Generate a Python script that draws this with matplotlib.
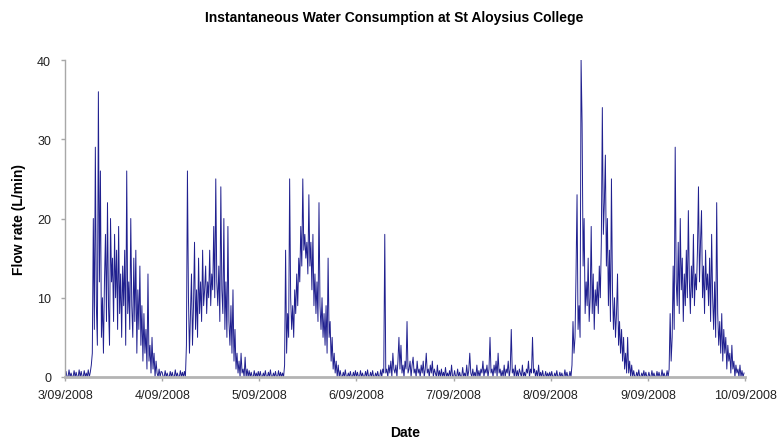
import pandas as pd
import matplotlib
matplotlib.use('Agg')
import matplotlib.pyplot as plt

# flow rate readings, one every 15 minutes (96 per day), L/min
day_03 = [0, 0.7, 0, 0, 0.9, 0, 0.5, 0, 0, 0.8, 0, 0.6, 0,
          0, 0.9, 0, 0.7, 0, 0, 0.8, 0, 0.5, 0, 0.9, 0, 0.6,
          1.5, 3, 20, 6, 29, 9, 4, 36, 12, 26, 5, 10, 3, 12,
          18, 7, 22, 9, 4, 20, 12, 15, 7, 18, 10, 16, 6, 19,
          8, 13, 5, 14, 9, 16, 4, 26, 8, 12, 6, 20, 9, 5,
          15, 7, 16, 3, 11, 6, 14, 4, 9, 2, 8, 3, 6, 1,
          13, 2, 4, 0.5, 5, 1, 3, 0, 2, 0.5, 0, 1, 0, 0.7]
day_04 = [0.6, 0, 0, 0.8, 0, 0.5, 0, 0, 0.7, 0, 0.6, 0,
          0, 0.9, 0, 0.5, 0, 0, 0.8, 0, 0.6, 0, 0.7, 0,
          4, 26, 10, 3, 8, 13, 4, 9, 17, 6, 11, 5, 15, 8,
          12, 7, 16, 9, 11, 14, 8, 12, 10, 16, 9, 13, 11, 19,
          10, 25, 12, 9, 14, 7, 24, 11, 8, 20, 6, 12, 5, 19,
          7, 4, 9, 3, 11, 2, 6, 1, 3, 0.5, 2, 0, 3, 0.5,
          1, 0, 2.5, 0, 1, 0, 0.8, 0, 0.6, 0, 0, 0.8, 0, 0.5, 0, 0.7]
day_05 = [0, 0.7, 0, 0, 0.5, 0, 0.8, 0, 0, 0.6, 0, 0.9, 0,
          0, 0.5, 0, 0.7, 0, 0, 0.8, 0, 0.6, 0, 0.5, 0,
          1.5, 16, 3, 8, 5, 25, 10, 6, 9, 5, 11, 8, 13, 9,
          15, 12, 19, 14, 25, 16, 18, 15, 17, 13, 23, 14, 17, 11,
          18, 9, 13, 8, 12, 7, 22, 9, 6, 10, 5, 8, 4, 9,
          3, 15, 5, 7, 2, 5, 1, 3, 0.5, 2, 0, 1.5, 0, 0.8,
          0, 0, 0.6, 0, 0.9, 0, 0, 0.5, 0, 0.7, 0, 0, 0.6, 0, 0.8]
day_06 = [0, 0.6, 0, 0, 0.8, 0, 0.5, 0, 0, 0.7, 0, 0.9, 0, 0,
          0.6, 0, 0.8, 0, 0, 0.5, 0, 0.7, 0, 0, 0.9, 0, 1, 0.5,
          18, 0.5, 1, 0, 1.5, 0.5, 2, 0, 3, 1, 0.5, 1.5, 0, 2,
          5, 1, 4, 0.5, 1.5, 0, 2, 1, 7, 0.5, 1, 2, 0, 1.5,
          2.5, 0.5, 1, 0, 2, 0.5, 1, 0, 1.5, 0.5, 2, 0, 1, 3,
          0.5, 1, 0, 1.5, 0.5, 2, 0, 1, 0.5, 0, 1.5, 0, 0.8, 0,
          1, 0, 0.6, 0, 1.2, 0, 0.5, 0, 0.8, 0, 1.5, 0]
day_07 = [0, 0.8, 0, 0, 1, 0, 0.6, 0, 0, 1.2, 0, 0.5, 0, 1.5, 0, 0.8,
          3, 0.5, 0, 1, 0, 0.6, 0, 1.5, 0, 0.8, 0, 1, 0.5, 2,
          0, 1, 0.5, 1.5, 0, 1, 5, 0.5, 1, 0, 1.5, 0.5, 2, 0,
          3, 0.5, 1, 0, 0.8, 0, 1.5, 0, 1, 0.5, 2, 0, 1, 6,
          0.5, 1, 0, 1.5, 0, 0.8, 0, 1, 0.5, 0, 1.5, 0, 0.6, 0,
          1, 0.5, 2, 0, 1, 0.5, 5, 0.5, 1, 0, 0.8, 0, 1.5, 0,
          0.6, 0, 0.8, 0, 0, 0.7, 0, 0.5, 0, 0.6]
day_08 = [0, 0.7, 0, 0, 0.5, 0, 0.8, 0, 0, 0.6, 0, 0.5, 0, 0,
          0.9, 0, 0.6, 0, 0, 0.7, 0,
          1.5, 7, 3, 5, 13, 23, 6, 9, 5, 40, 32, 14, 20, 8,
          12, 9, 15, 7, 10, 19, 8, 13, 6, 11, 9, 12, 8, 14,
          10, 17, 34, 18, 22, 28, 14, 20, 9, 16, 7, 25, 11, 6,
          10, 5, 8, 13, 4, 7, 3, 6, 2, 5, 1, 3, 0.5, 5,
          0.5, 2, 0, 1.5, 0, 0.8, 0, 0, 0.6, 0, 0.9, 0, 0, 0.5,
          0, 0.8, 0, 0.6, 0]
day_09 = [0, 0.6, 0, 0, 0.8, 0, 0.5, 0, 0, 0.7, 0, 0.6, 0, 0,
          0.9, 0, 0.5, 0, 0, 0.8, 0, 1,
          8, 2, 5, 14, 6, 29, 12, 9, 17, 8, 20, 11, 15, 7,
          13, 9, 16, 10, 21, 12, 8, 14, 10, 18, 9, 13, 11, 16,
          24, 12, 17, 21, 10, 14, 8, 16, 11, 13, 9, 15, 7, 18,
          10, 6, 12, 5, 22, 8, 4, 7, 3, 8, 2, 6, 3, 5,
          1, 4, 2, 3, 0.5, 4, 1, 2, 0, 1.5, 0.5, 1, 0, 1.5,
          0, 0.8, 0, 0.5]

flow = []
times = []
for day, vals in zip(pd.date_range('2008-09-03', periods=7, freq='D'),
                     [day_03, day_04, day_05, day_06, day_07, day_08, day_09]):
    flow += vals
    times += list(pd.date_range(day, periods=len(vals), freq='15min'))

tick_dates = pd.date_range('2008-09-03', '2008-09-10', freq='D')
tick_labels = ['3/09/2008', '4/09/2008', '5/09/2008', '6/09/2008',
               '7/09/2008', '8/09/2008', '9/09/2008', '10/09/2008']

plt.rcParams['font.family'] = ['Liberation Sans', 'DejaVu Sans']

fig = plt.figure(figsize=(7.83, 4.39), dpi=100)
ax = fig.add_axes([0.083, 0.139, 0.8685, 0.722])

ax.plot(times, flow, color='#20208f', linewidth=0.7)

ax.set_xlim(tick_dates[0], tick_dates[-1])
ax.set_ylim(0, 40)
ax.set_yticks([0, 10, 20, 30, 40])
ax.set_xticks(tick_dates)
ax.set_xticklabels(tick_labels)

for s in ['top', 'right']:
    ax.spines[s].set_visible(False)
ax.spines['left'].set_color('#a8a8a8')
ax.spines['left'].set_linewidth(1.0)
ax.spines['bottom'].set_color('#b4b4b4')
ax.spines['bottom'].set_linewidth(2.0)
ax.tick_params(axis='both', colors='#a8a8a8', labelcolor='#222222',
               labelsize=9, length=3, width=1)
ax.tick_params(axis='x', pad=6)
ax.tick_params(axis='y', pad=7)

ax.set_ylabel('Flow rate (L/min)', fontsize=10, fontweight='bold', labelpad=8)
ax.set_xlabel('Date', fontsize=10, fontweight='bold', labelpad=17)
fig.text(0.503, 0.958, 'Instantaneous Water Consumption at St Aloysius College',
         ha='center', va='center', fontsize=10, fontweight='bold')

plt.savefig('out.png', dpi=100)
plt.close()
